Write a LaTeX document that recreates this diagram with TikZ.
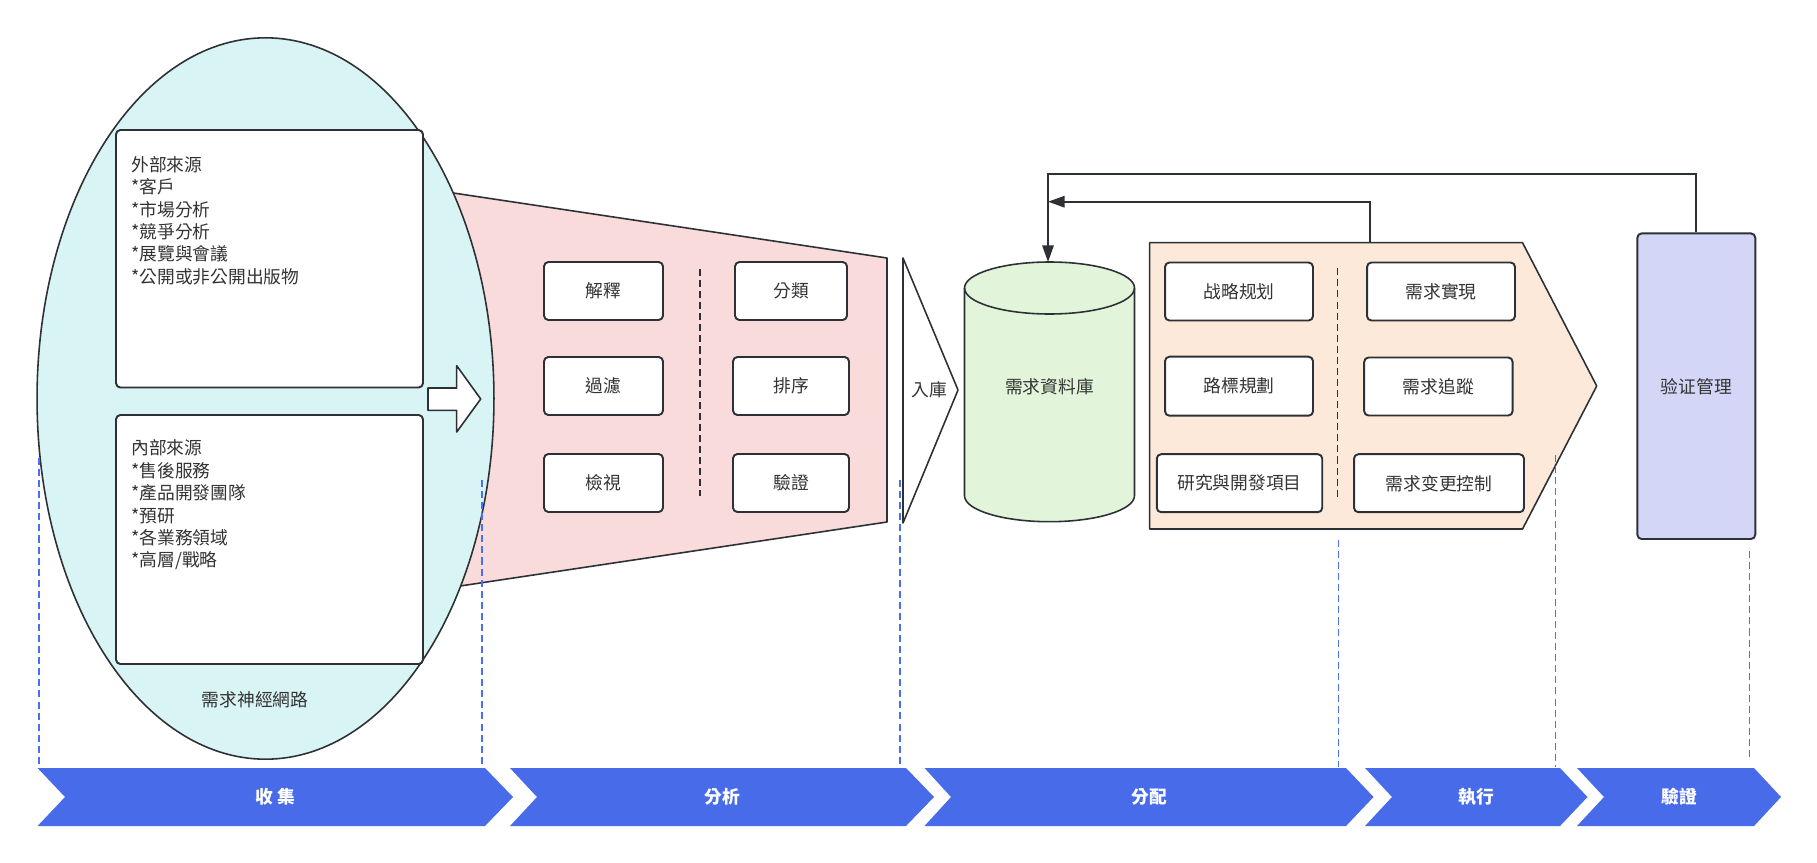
\documentclass[tikz,border=0pt]{standalone}
\usepackage{fontspec}
\setmainfont{Noto Sans CJK TC}
\usetikzlibrary{shapes.geometric,arrows.meta,fit}
\definecolor{ink}{RGB}{51,51,51}
\definecolor{edgecol}{RGB}{45,48,53}
\definecolor{cyanfill}{RGB}{217,244,244}
\definecolor{pinkfill}{RGB}{250,219,219}
\definecolor{greenfill}{RGB}{226,245,218}
\definecolor{orangefill}{RGB}{252,233,218}
\definecolor{lavfill}{RGB}{211,214,247}
\definecolor{chevcol}{RGB}{71,107,233}
\definecolor{guideblue}{RGB}{74,110,245}
\begin{document}
\begin{tikzpicture}[x=0.02cm,y=-0.02cm,
  font=\fontsize{10.1pt}{12.75pt}\selectfont, text=ink,
  outline/.style={draw=edgecol, line width=1.1pt, line join=round},
  thinoutline/.style={draw=edgecol, line width=0.9pt, line join=round},
  box/.style={outline, fill=white, rounded corners=2.5pt, inner sep=0pt},
  smallbox/.style={box, minimum height=1.16cm},
  divider/.style={draw=edgecol, line width=0.8pt, dash pattern=on 4pt off 2.3pt},
  guideline/.style={draw=guideblue, line width=0.6pt, dash pattern=on 4pt off 2.3pt},
  chevshape/.style={fill=chevcol},
  chevtext/.style={text=white, font=\fontsize{10.1pt}{12pt}\selectfont\bfseries},
  feedback/.style={draw=edgecol, line width=1.1pt, -{Triangle[length=9.5pt,width=6.5pt]}},
  srclist/.style={anchor=north west, align=left, inner sep=0pt},
]
\fill[white] (0,0) rectangle (1817,862);
\useasboundingbox (0,0) rectangle (1817,862);

% analysis funnel (behind the ellipse)
\path[thinoutline, fill=pinkfill] (420,188) -- (887,258) -- (887,522) -- (420,592) -- cycle;

% collection ellipse
\node[ellipse, thinoutline, fill=cyanfill, minimum width=9.14cm, minimum height=14.43cm, inner sep=0pt] (net) at (265.5,398.5) {};
\node (netlabel) at (255,700) {需求神經網路};

\node[box, fit={(116,130)(423,387.5)}] (ext) {};
\node[srclist] (exttext) at (131,156) {外部來源\\*客戶\\*市場分析\\*競爭分析\\*展覽與會議\\*公開或非公開出版物};
\node[box, fit={(116,415)(423,664)}] (int) {};
\node[srclist] (inttext) at (131,439.5) {內部來源\\*售後服務\\*產品開發團隊\\*預研\\*各業務領域\\*高層/戰略};

% block arrow
\path[thinoutline, fill=white] (428,388) -- (456.7,388) -- (456.7,365.7) -- (480.7,399) -- (456.7,432) -- (456.7,410.4) -- (428,410.4) -- cycle;

% analysis boxes
\node[smallbox, minimum width=2.38cm] (a1) at (603.5,291) {解釋};
\node[smallbox, minimum width=2.38cm] (a2) at (603.5,386) {過濾};
\node[smallbox, minimum width=2.38cm] (a3) at (603.5,483) {檢視};
\node[smallbox, minimum width=2.24cm] (b1) at (791,291) {分類};
\node[smallbox, minimum width=2.32cm] (b2) at (791,386) {排序};
\node[smallbox, minimum width=2.32cm] (b3) at (791,483) {驗證};
\draw[divider] (700,269) -- (700,496);

% store triangle
\path[thinoutline, fill=white] (903,258) -- (958,390) -- (903,523) -- cycle;
\node (ruku) at (929,390) {入庫};

% database cylinder
\path[thinoutline, fill=greenfill] (964.5,288) -- (964.5,495.7)
  arc[start angle=180, end angle=360, x radius=1.7cm, y radius=0.52cm]
  -- (1134.5,288)
  arc[start angle=0, end angle=180, x radius=1.7cm, y radius=0.52cm] -- cycle;
\draw[thinoutline] (964.5,288) arc[start angle=180, end angle=360, x radius=1.7cm, y radius=0.52cm];
\node (db) at (1049.5,387) {需求資料庫};
\coordinate (dbtop) at (1048,262);

% distribution pentagon
\path[thinoutline, fill=orangefill] (1149.6,242.7) -- (1522.5,242.7) -- (1596.7,386) -- (1522.5,529) -- (1149.6,529) -- cycle;
\coordinate (otop) at (1370,242.7);
\node[smallbox, minimum width=2.96cm] (d1) at (1239,291.5) {战略规划};
\node[smallbox, minimum width=2.96cm, minimum height=1.18cm] (d2) at (1239,386.2) {路標規劃};
\node[smallbox, minimum width=3.31cm] (d3) at (1239.5,483.2) {研究與開發項目};
\node[smallbox, minimum width=2.96cm] (e1) at (1441,291.5) {需求實現};
\node[smallbox, minimum width=2.97cm] (e2) at (1438.4,386.5) {需求追蹤};
\node[smallbox, minimum width=3.4cm] (e3) at (1439,483.2) {需求变更控制};
\draw[divider] (1337.7,268.3) -- (1337.7,496.7);

% verification
\node[box, fill=lavfill, minimum width=2.36cm, minimum height=6.114cm] (vm) at (1696.3,386.2) {验证管理};

% feedback loops
\coordinate (merge) at (1048,201.7);
\draw[feedback] (vm.north) -- ++(0,-58.3) -| (dbtop);
\draw[feedback] (otop) |- (merge);

% phase chevrons
\fill[chevshape] (37.6,768) -- (485,768) -- (513,797) -- (485,826) -- (37.6,826) -- (65,797) -- cycle;
\node[chevtext] (c1) at (275,797) {收 集};
\fill[chevshape] (510,768) -- (906,768) -- (934,797) -- (906,826) -- (510,826) -- (537,797) -- cycle;
\node[chevtext] (c2) at (722,797) {分析};
\fill[chevshape] (924.5,768) -- (1346,768) -- (1373.5,797) -- (1346,826) -- (924.5,826) -- (951,797) -- cycle;
\node[chevtext] (c3) at (1149,797) {分配};
\fill[chevshape] (1365,768) -- (1560,768) -- (1587.5,797) -- (1560,826) -- (1365,826) -- (1392,797) -- cycle;
\node[chevtext] (c4) at (1476,797) {執行};
\fill[chevshape] (1577,768) -- (1754,768) -- (1781,797) -- (1754,826) -- (1577,826) -- (1604,797) -- cycle;
\node[chevtext] (c5) at (1679,797) {驗證};

% phase guide lines
\draw[guideline] (39,458) -- (39,768);
\draw[guideline] (482,480) -- (482,768);
\draw[guideline] (900,480) -- (900,768);
\draw[guideline] (1338.7,540) -- (1338.7,767);
\draw[guideline] (1555,455) -- (1555,767);
\draw[guideline] (1749,551) -- (1749,758);
\end{tikzpicture}
\end{document}
